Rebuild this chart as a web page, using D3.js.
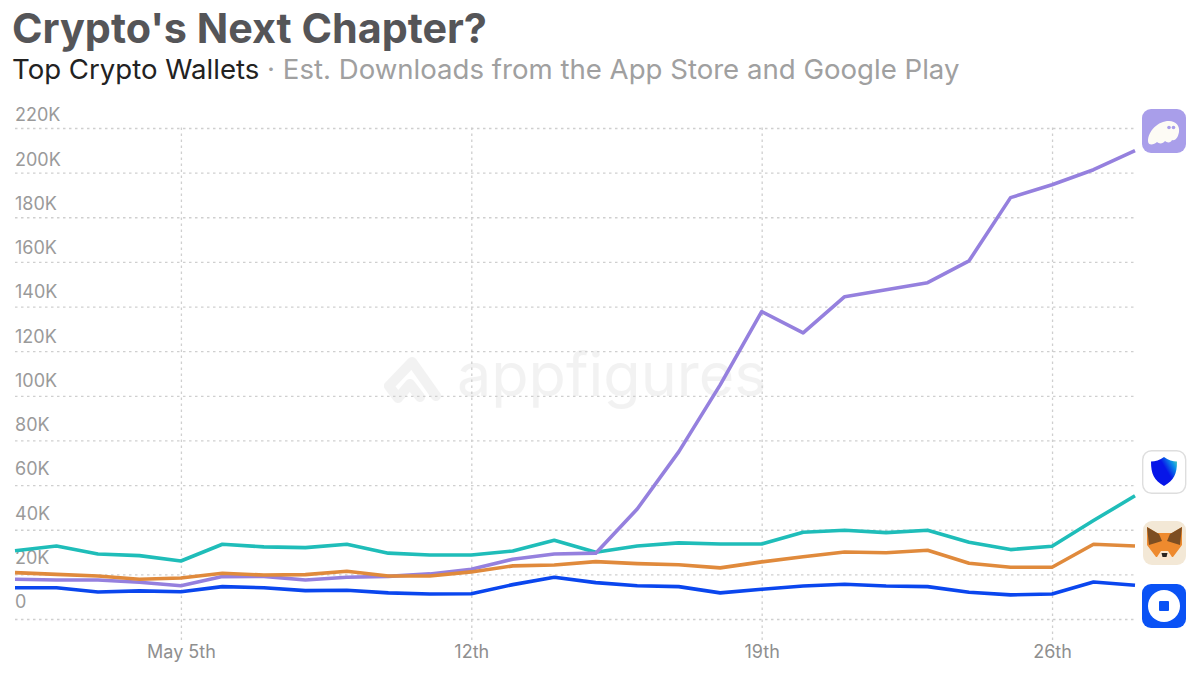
<!DOCTYPE html>
<html>
<head>
	<meta charset="utf-8">
	<title>Crypto's Next Chapter?</title>
	<script src="https://d3js.org/d3.v7.min.js"></script>
	<style>
		html, body { margin: 0; padding: 0; background: #fff; }
		svg { display: block; font-family: Inter, "Noto Sans", sans-serif; }
	</style>
</head>
<body>
	<svg width="1200" height="675"></svg>

	<script type="text/javascript">
		// days of May, values in thousands of downloads
		var days = [1,2,3,4,5,6,7,8,9,10,11,12,13,14,15,16,17,18,19,20,21,22,23,24,25,26,27,28];
		var phantom = [17.8,17.5,17.5,16.5,14.9,19.0,19.1,17.5,18.7,19.1,20.2,22.3,26.8,29.1,29.5,49.3,74.9,104.9,137.7,128.2,144.4,147.5,150.7,160.5,188.8,194.6,201.3,209.9];
		var trust = [30.6,32.7,29.1,28.4,26.0,33.5,32.3,32.0,33.5,29.5,28.7,28.7,30.5,35.3,29.9,32.7,34.1,33.6,33.6,38.9,39.8,38.7,39.8,34.4,31.1,32.6,44.1,55.2];
		var metamask = [20.8,20.0,19.3,17.8,18.4,20.5,19.7,19.9,21.4,19.3,19.3,21.1,23.8,24.2,25.7,24.8,24.3,22.9,25.6,27.9,30.0,29.7,30.8,25.0,23.2,23.2,33.5,32.7];
		var coinbase = [14.0,14.0,12.1,12.6,12.2,14.5,14.0,12.7,12.9,11.7,11.2,11.3,15.4,18.7,16.3,14.9,14.5,11.7,13.3,14.8,15.6,14.8,14.5,12.0,10.8,11.2,16.6,15.1];

		var yTicks = [0,20,40,60,80,100,120,140,160,180,200,220];
		var xTicks = [5,12,19,26];
		var xTickLabels = ["May 5th","12th","19th","26th"];

		var svg = d3.select("svg");
		var x = d3.scaleLinear().domain([1, 28]).range([15, 1135]);
		var y = d3.scaleLinear().domain([0, 220]).range([619, 128]);
		// the labels float above the gridlines and run on a slightly tighter spacing
		var labelY = d3.scaleLinear().domain([0, 220]).range([602, 115]);

		// title
		svg.append("text").attr("x", 12).attr("y", 43)
			.attr("font-size", 41.3).attr("font-weight", 700).attr("fill", "#555558")
			.text("Crypto's Next Chapter?");
		var sub = svg.append("text").attr("x", 12).attr("y", 79).attr("font-size", 27.6);
		sub.append("tspan").attr("fill", "#222").text("Top Crypto Wallets");
		sub.append("tspan").attr("fill", "#a0a0a0").text(" · Est. Downloads from the App Store and Google Play");

		// watermark
		var mark = svg.append("g").attr("opacity", 0.07);
		mark.append("path")
			.attr("d", "M412 362 L436 396 M412 362 L389 386 L398 398 L410 384 L420 397")
			.attr("fill", "none").attr("stroke", "#555").attr("stroke-width", 10)
			.attr("stroke-linecap", "round").attr("stroke-linejoin", "round");
		mark.append("text").attr("x", 457).attr("y", 396)
			.attr("font-size", 61).attr("fill", "#555").text("appfigures");

		// y axis
		var yAxis = svg.append("g").attr("transform", "translate(15,0)")
			.call(d3.axisRight(y).tickValues(yTicks).tickSize(1120)
				.tickFormat(function(d) { return d === 0 ? "0" : d + "K"; }));
		yAxis.select(".domain").remove();
		yAxis.selectAll("line")
			.attr("stroke", "#cfcfcf").attr("stroke-width", 1.3).attr("stroke-dasharray", "2.5 3.5");
		yAxis.selectAll("text")
			.attr("x", 0).attr("y", function(d) { return labelY(d) - y(d); }).attr("text-anchor", "start")
			.attr("font-size", 18).attr("font-family", "Inter, sans-serif").attr("fill", "#9a9a9a");

		// x axis
		var xAxis = svg.append("g").attr("transform", "translate(0,640)")
			.call(d3.axisBottom(x).tickValues(xTicks).tickSize(-513).tickPadding(5)
				.tickFormat(function(d, i) { return xTickLabels[i]; }));
		xAxis.select(".domain").remove();
		xAxis.selectAll("line")
			.attr("stroke", "#cfcfcf").attr("stroke-width", 1.3).attr("stroke-dasharray", "2.5 3.5");
		xAxis.selectAll("text")
			.attr("font-size", 18).attr("font-family", "Inter, sans-serif").attr("fill", "#8f8f8f");

		// lines
		var line = d3.line()
			.x(function(d, i) { return x(days[i]); })
			.y(function(d) { return y(d); });

		var series = [
			{ values: trust, color: "#1fbdb9" },
			{ values: coinbase, color: "#0a46ee" },
			{ values: phantom, color: "#9580de" },
			{ values: metamask, color: "#e08a3c" }
		];
		svg.selectAll(".series").data(series).enter().append("path")
			.attr("class", "series")
			.attr("fill", "none")
			.attr("stroke", function(d) { return d.color; })
			.attr("stroke-width", 3.6)
			.attr("stroke-linejoin", "round")
			.attr("d", function(d) { return line(d.values); });

		// app icons
		function icon(px, py) {
			return svg.append("g").attr("transform", "translate(" + px + "," + py + ")");
		}

		var defs = svg.append("defs");
		var shield = defs.append("linearGradient").attr("id", "shieldFill")
			.attr("x1", 0.1).attr("y1", 0.6).attr("x2", 1).attr("y2", 0);
		shield.append("stop").attr("offset", "45%").attr("stop-color", "#0716e8");
		shield.append("stop").attr("offset", "75%").attr("stop-color", "#0a8fe8");
		shield.append("stop").attr("offset", "100%").attr("stop-color", "#5fe3a8");

		var ph = icon(1142, 109);
		ph.append("rect").attr("width", 44).attr("height", 44).attr("rx", 9).attr("fill", "#a99eea");
		ph.append("path").attr("fill", "#fdfbf5")
			.attr("d", "M6 32 C6 22 16 12 27 12 C34 12 38 17 37 23 C36 29 33 32 30 31 C29 34 25 34 23 32 C21 35 17 35 15 33 C12 36 6 37 6 32 Z");
		ph.append("circle").attr("cx", 27).attr("cy", 18.500).attr("r", 1.800).attr("fill", "#a99eea");
		ph.append("circle").attr("cx", 31.500).attr("cy", 18.500).attr("r", 1.800).attr("fill", "#a99eea");

		var tr = icon(1142, 450);
		tr.append("rect").attr("x", 0.7).attr("y", 0.7).attr("width", 43).attr("height", 42.600).attr("rx", 9)
			.attr("fill", "#fff").attr("stroke", "#dedede").attr("stroke-width", 1.400);
		tr.append("path").attr("fill", "url(#shieldFill)")
			.attr("d", "M22 7 C26 10 31 11.500 35 11.500 C35 24 32 30 22 36 C12 30 9 24 9 11.500 C13 11.500 18 10 22 7 Z");

		var mm = icon(1143, 521);
		mm.append("rect").attr("width", 43).attr("height", 44).attr("rx", 9).attr("fill", "#f3e8d6");
		mm.append("path").attr("fill", "#ee8a2e").attr("d", "M4 6 L14 12 L29 12 L39 6 L39 24 L30 36 L13 36 L4 24 Z");
		mm.append("path").attr("fill", "#7d4e22").attr("d", "M4 6 L16 13 L19 20 L6 24 Z");
		mm.append("path").attr("fill", "#7d4e22").attr("d", "M39 6 L27 13 L24 20 L37 24 Z");
		mm.append("path").attr("fill", "#fbe4cc").attr("d", "M14 36 L18 30 L25 30 L29 36 L25 39 L18 39 Z");
		mm.append("path").attr("fill", "#2b2320").attr("d", "M18.500 32 L24.500 32 L23.500 36 L19.500 36 Z");

		var cb = icon(1142, 584);
		cb.append("rect").attr("width", 44).attr("height", 44).attr("rx", 9).attr("fill", "#0a52f5");
		cb.append("circle").attr("cx", 22).attr("cy", 22).attr("r", 16).attr("fill", "#fff");
		cb.append("rect").attr("x", 17).attr("y", 17).attr("width", 10).attr("height", 10).attr("rx", 1).attr("fill", "#0a52f5");
	</script>
</body>
</html>
